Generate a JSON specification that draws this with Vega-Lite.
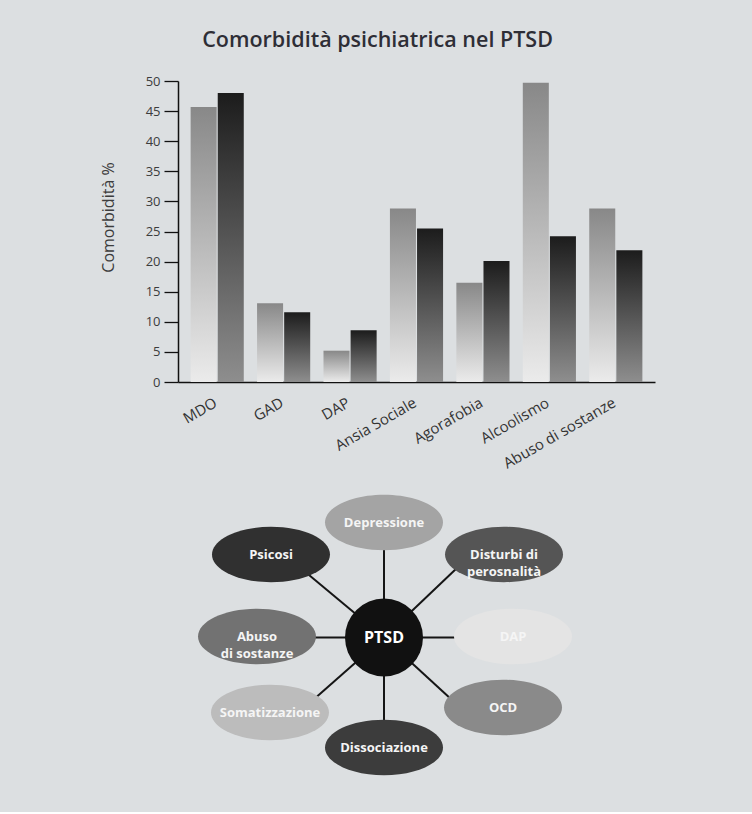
{
  "$schema": "https://vega.github.io/schema/vega-lite/v6.json",
  "background": "#dcdfe1",
  "padding": {"left": 100, "right": 7, "top": 29, "bottom": 4},
  "title": {"text": "Comorbidità psichiatrica nel PTSD", "fontSize": 21.5, "fontWeight": 600, "color": "#2e2e36", "anchor": "middle", "offset": 24, "dx": -45},
  "datasets": {
    "bars": [
      {"cat": "MDO", "serie": "A", "value": 45.7},
      {"cat": "MDO", "serie": "B", "value": 48.0},
      {"cat": "GAD", "serie": "A", "value": 13.1},
      {"cat": "GAD", "serie": "B", "value": 11.6},
      {"cat": "DAP", "serie": "A", "value": 5.2},
      {"cat": "DAP", "serie": "B", "value": 8.6},
      {"cat": "Ansia Sociale", "serie": "A", "value": 28.8},
      {"cat": "Ansia Sociale", "serie": "B", "value": 25.5},
      {"cat": "Agorafobia", "serie": "A", "value": 16.5},
      {"cat": "Agorafobia", "serie": "B", "value": 20.1},
      {"cat": "Alcoolismo", "serie": "A", "value": 49.7},
      {"cat": "Alcoolismo", "serie": "B", "value": 24.2},
      {"cat": "Abuso di sostanze", "serie": "A", "value": 28.8},
      {"cat": "Abuso di sostanze", "serie": "B", "value": 21.9}
    ],
    "nodes": [
      {"name": "Depressione", "label": "Depressione", "x": 0, "y": 11.5},
      {"name": "Psicosi", "label": "Psicosi", "x": -11.3, "y": 8.3},
      {"name": "Disturbi", "label": "Disturbi di\nperosnalità", "x": 12.0, "y": 8.3},
      {"name": "Abuso", "label": "Abuso\ndi sostanze", "x": -12.7, "y": 0.1},
      {"name": "DAP", "label": "DAP", "x": 12.9, "y": 0.1},
      {"name": "Somatizzazione", "label": "Somatizzazione", "x": -11.4, "y": -7.5},
      {"name": "OCD", "label": "OCD", "x": 11.9, "y": -7.0},
      {"name": "Dissociazione", "label": "Dissociazione", "x": 0, "y": -11.0}
    ],
    "spokes": [
      {"name": "Depressione", "x0": 0, "y0": 0, "ex": 0, "ey": 11.5},
      {"name": "Psicosi", "x0": 0, "y0": 0, "ex": -8.4, "ey": 7.0},
      {"name": "Disturbi", "x0": 0, "y0": 0, "ex": 8.4, "ey": 8.0},
      {"name": "Abuso", "x0": 0, "y0": 0, "ex": -12.0, "ey": 0},
      {"name": "DAP", "x0": 0, "y0": 0, "ex": 12.0, "ey": 0},
      {"name": "Somatizzazione", "x0": 0, "y0": 0, "ex": -8.4, "ey": -7.4},
      {"name": "OCD", "x0": 0, "y0": 0, "ex": 8.6, "ey": -7.9},
      {"name": "Dissociazione", "x0": 0, "y0": 0, "ex": 0, "ey": -11.0}
    ],
    "center": [
      {"name": "PTSD", "label": "PTSD", "x": 0, "y": 0}
    ]
  },
  "concat": [
    {
      "width": 477,
      "height": 301,
      "data": {"name": "bars"},
      "encoding": {
        "x": {
          "field": "cat", "type": "nominal", "title": null,
          "sort": ["MDO", "GAD", "DAP", "Ansia Sociale", "Agorafobia", "Alcoolismo", "Abuso di sostanze"],
          "scale": {"paddingInner": 0.2, "paddingOuter": 0.19},
          "axis": {"labelAngle": -30, "ticks": false, "domainColor": "#111", "domainWidth": 1.5, "labelFontSize": 15, "labelColor": "#333", "labelPadding": 13, "labelOffset": -5}
        },
        "y": {
          "field": "value", "type": "quantitative", "title": "Comorbidità %",
          "scale": {"domain": [0, 50], "nice": false},
          "axis": {"values": [0, 5, 10, 15, 20, 25, 30, 35, 40, 45, 50], "grid": false, "tickSize": 14, "tickWidth": 1.3, "tickColor": "#111", "domainColor": "#111", "domainWidth": 1.5, "labelFontSize": 13, "labelColor": "#3c3c3c", "labelPadding": 4, "titleFontSize": 16, "titleFontWeight": "normal", "titleColor": "#3c3c3c", "titlePadding": 29, "titleY": 136}
        },
        "xOffset": {"field": "serie", "type": "nominal", "scale": {"domain": ["A", "B"], "paddingInner": 0.04}}
      },
      "layer": [
        {
          "transform": [{"filter": "datum.serie === 'A'"}],
          "mark": {"type": "bar", "fill": {"gradient": "linear", "x1": 0, "y1": 0, "x2": 0, "y2": 1, "stops": [{"offset": 0, "color": "#888888"}, {"offset": 1, "color": "#ebebeb"}]}}
        },
        {
          "transform": [{"filter": "datum.serie === 'B'"}],
          "mark": {"type": "bar", "fill": {"gradient": "linear", "x1": 0, "y1": 0, "x2": 0, "y2": 1, "stops": [{"offset": 0, "color": "#1c1c1c"}, {"offset": 1, "color": "#8e8e8e"}]}}
        }
      ]
    },
    {
      "width": 567,
      "height": 334,
      "layer": [
        {
          "data": {"name": "spokes"},
          "mark": {"type": "rule", "stroke": "#151515", "strokeWidth": 2},
          "encoding": {
            "x": {"field": "x0", "type": "quantitative", "scale": {"domain": [-20.6, 36.1], "nice": false, "zero": false}, "axis": null},
            "y": {"field": "y0", "type": "quantitative", "scale": {"domain": [-17.05, 16.35], "nice": false, "zero": false}, "axis": null},
            "x2": {"field": "ex"},
            "y2": {"field": "ey"}
          }
        },
        {
          "data": {"name": "nodes"},
          "mark": {"type": "point", "filled": true, "opacity": 1, "size": 13924, "strokeWidth": 0, "shape": "M1,0C1,0.2596,0.5523,0.47,0,0.47C-0.5523,0.47,-1,0.2596,-1,0C-1,-0.2596,-0.5523,-0.47,0,-0.47C0.5523,-0.47,1,-0.2596,1,0Z"},
          "encoding": {
            "x": {"field": "x", "type": "quantitative", "scale": {"domain": [-20.6, 36.1], "nice": false, "zero": false}, "axis": null},
            "y": {"field": "y", "type": "quantitative", "scale": {"domain": [-17.05, 16.35], "nice": false, "zero": false}, "axis": null},
            "color": {"field": "name", "type": "nominal", "legend": null, "scale": {"domain": ["Depressione", "Psicosi", "Disturbi", "Abuso", "DAP", "Somatizzazione", "OCD", "Dissociazione"], "range": ["#a4a4a4", "#303030", "#555555", "#727272", "#e4e4e4", "#bcbcbc", "#8a8a8a", "#3c3c3c"]}}
          }
        },
        {
          "data": {"name": "center"},
          "mark": {"type": "point", "shape": "circle", "filled": true, "opacity": 1, "size": 6084, "color": "#111111", "strokeWidth": 0},
          "encoding": {
            "x": {"field": "x", "type": "quantitative", "scale": {"domain": [-20.6, 36.1], "nice": false, "zero": false}, "axis": null},
            "y": {"field": "y", "type": "quantitative", "scale": {"domain": [-17.05, 16.35], "nice": false, "zero": false}, "axis": null}
          }
        },
        {
          "data": {"name": "nodes"},
          "mark": {"type": "text", "color": "#f5f5f5", "fontWeight": "bold", "fontSize": 13, "lineBreak": "\n", "lineHeight": 17, "align": "center", "baseline": "middle"},
          "encoding": {
            "x": {"field": "x", "type": "quantitative", "scale": {"domain": [-20.6, 36.1], "nice": false, "zero": false}, "axis": null},
            "y": {"field": "y", "type": "quantitative", "scale": {"domain": [-17.05, 16.35], "nice": false, "zero": false}, "axis": null},
            "text": {"field": "label"}
          }
        },
        {
          "data": {"name": "center"},
          "mark": {"type": "text", "color": "#ffffff", "fontWeight": "bold", "fontSize": 16, "align": "center", "baseline": "middle"},
          "encoding": {
            "x": {"field": "x", "type": "quantitative", "scale": {"domain": [-20.6, 36.1], "nice": false, "zero": false}, "axis": null},
            "y": {"field": "y", "type": "quantitative", "scale": {"domain": [-17.05, 16.35], "nice": false, "zero": false}, "axis": null},
            "text": {"field": "label"}
          }
        }
      ]
    }
  ],
  "columns": 1,
  "spacing": 2,
  "config": {
    "font": "Open Sans",
    "view": {"stroke": null},
    "axis": {"labelFont": "Open Sans", "titleFont": "Open Sans"}
  }
}
